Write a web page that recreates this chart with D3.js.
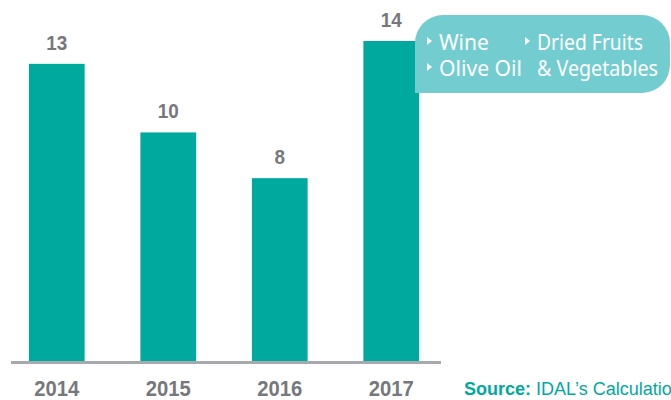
<!DOCTYPE html>
<html>
<head>
<meta charset="utf-8">
<script src="https://cdn.jsdelivr.net/npm/d3@7"></script>
<style>
body{margin:0;background:#fff;}
</style>
</head>
<body>
<div id="chart"></div>
<script>
"use strict";

// data
let years = ["2014","2015","2016","2017"];
let values = [13,10,8,14];
let legendLeft = ["Wine","Olive Oil"];
let legendRight = ["Dried Fruits","& Vegetables"];

let svg = d3.select("#chart")
.append("svg")
.attr("width",671)
.attr("height",400);

let xScale = d3.scaleBand()
.domain(years)
.range([1,447])
.paddingInner(0.5)
.paddingOuter(0.25);

let yScale = d3.scaleLinear()
.domain([0,14])
.range([361,41]);

let helv = "'Liberation Sans',Arial,sans-serif";

// bars
svg.selectAll("rect.bar")
.data(values)
.join("rect")
.attr("class","bar")
.attr("x",function(d,i){ return xScale(years[i]); })
.attr("y",function(d){ return yScale(d); })
.attr("width",xScale.bandwidth())
.attr("height",function(d){ return yScale(0)-yScale(d); })
.attr("fill","#00a99e");

// value labels (condensed look via textLength)
svg.selectAll("text.val")
.data(values)
.join("text")
.attr("class","val")
.attr("x",function(d,i){ return xScale(years[i])+xScale.bandwidth()/2; })
.attr("y",function(d){ return yScale(d)-14; })
.attr("text-anchor","middle")
.attr("font-family",helv)
.attr("font-weight","bold")
.attr("font-size",21)
.attr("textLength",function(d){ return String(d).length*10.5; })
.attr("lengthAdjust","spacingAndGlyphs")
.attr("fill","#77787b")
.text(function(d){ return d; });

// baseline
svg.append("line")
.attr("x1",11)
.attr("x2",441)
.attr("y1",362.5)
.attr("y2",362.5)
.attr("stroke","#a7a9ac")
.attr("stroke-width",3);

// year labels
svg.selectAll("text.year")
.data(years)
.join("text")
.attr("class","year")
.attr("x",function(d){ return xScale(d)+xScale.bandwidth()/2; })
.attr("y",396)
.attr("text-anchor","middle")
.attr("font-family",helv)
.attr("font-weight","bold")
.attr("font-size",22)
.attr("textLength",45)
.attr("lengthAdjust","spacingAndGlyphs")
.attr("fill","#77787b")
.text(function(d){ return d; });

// legend box: rounded except bottom-left
let bx = 415, by = 15, bw = 255, bh = 78, r = 28;
svg.append("path")
.attr("d",
 "M"+bx+","+(by+r)+
 " A"+r+","+r+" 0 0 1 "+(bx+r)+","+by+
 " L"+(bx+bw-r)+","+by+
 " A"+r+","+r+" 0 0 1 "+(bx+bw)+","+(by+r)+
 " L"+(bx+bw)+","+(by+bh-r)+
 " A"+r+","+r+" 0 0 1 "+(bx+bw-r)+","+(by+bh)+
 " L"+bx+","+(by+bh)+" Z")
.attr("fill","#73cdd0");

let legendFont = "'Noto Sans','Open Sans',sans-serif";

function legendItem(label,x,y,len,marker){
 if(marker){
  svg.append("path")
  .attr("d","M"+(x-12)+","+(y-13)+" l5,4 l-5,4 z")
  .attr("fill","#fff");
 }
 svg.append("text")
 .attr("x",x)
 .attr("y",y)
 .attr("font-family",legendFont)
 .attr("font-size",21)
 .attr("textLength",len)
 .attr("lengthAdjust","spacingAndGlyphs")
 .attr("fill","#fff")
 .text(label);
}

legendItem(legendLeft[0],439,50,50,true);
legendItem(legendLeft[1],439,76,83,true);
legendItem(legendRight[0],537,50,106,true);
legendItem(legendRight[1],537,76,121,false);

// source
let src = svg.append("text")
.attr("x",464)
.attr("y",395)
.attr("font-family",helv)
.attr("font-size",18)
.attr("fill","#00a99e");
src.append("tspan").attr("font-weight","bold").text("Source: ");
src.append("tspan").text("IDAL’s Calculations");
</script>
</body>
</html>
